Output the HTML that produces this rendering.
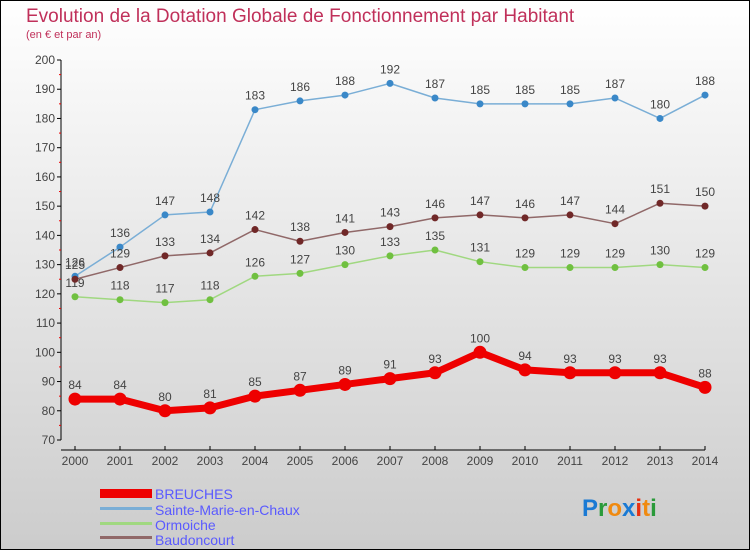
<!DOCTYPE html>
<html><head><meta charset="utf-8"><style>
body{margin:0}
#c{width:750px;height:550px;position:relative;overflow:hidden;background:linear-gradient(#ffffff,#cccccc);font-family:"Liberation Sans",sans-serif}
</style></head><body>
<div id="c">
<svg id="s" width="750" height="550" style="position:absolute;left:0;top:0">
<rect x="0.5" y="0.5" width="749" height="549" fill="none" stroke="#000"/>
<text x="26" y="22" font-size="19" fill="#c0305a">Evolution de la Dotation Globale de Fonctionnement par Habitant</text>
<text x="26" y="38" font-size="11" fill="#c0305a">(en € et par an)</text>
<g id="axes"></g><g id="series"></g>
<g>
<rect x="100" y="489" width="52" height="9" fill="#ee0000"/>
<text x="155" y="499" font-size="14" fill="#5a5aff">BREUCHES</text>
<rect x="100" y="507" width="52" height="3" fill="#7aaed6"/>
<text x="155" y="515" font-size="14" fill="#5a5aff">Sainte-Marie-en-Chaux</text>
<rect x="100" y="522" width="52" height="3" fill="#a0d880"/>
<text x="155" y="530" font-size="14" fill="#5a5aff">Ormoiche</text>
<rect x="100" y="536" width="52" height="3" fill="#906868"/>
<text x="155" y="545" font-size="14" fill="#5a5aff">Baudoncourt</text>
</g>
<text x="582" y="516" font-size="24" font-weight="bold"><tspan fill="#1a7ad4">P</tspan><tspan fill="#2a9a3a">r</tspan><tspan fill="#f08a10">o</tspan><tspan fill="#1a7ad4">x</tspan><tspan fill="#e83010">i</tspan><tspan fill="#f08a10">t</tspan><tspan fill="#2a9a3a">i</tspan></text>
</svg>
</div>
<script>
const years=[2000,2001,2002,2003,2004,2005,2006,2007,2008,2009,2010,2011,2012,2013,2014];
const breuches=[84,84,80,81,85,87,89,91,93,100,94,93,93,93,88];
const sainteMarie=[126,136,147,148,183,186,188,192,187,185,185,185,187,180,188];
const ormoiche=[119,118,117,118,126,127,130,133,135,131,129,129,129,130,129];
const baudoncourt=[125,129,133,134,142,138,141,143,146,147,146,147,144,151,150];
const yTicks=[70,80,90,100,110,120,130,140,150,160,170,180,190,200];
const NS="http://www.w3.org/2000/svg";
const X=i=>75+i*45;
const Y=v=>60+(200-v)*380/130;
function mk(tag,attrs,parent){const e=document.createElementNS(NS,tag);for(const k in attrs)e.setAttribute(k,attrs[k]);parent.appendChild(e);return e;}
const ax=document.getElementById('axes'),sg=document.getElementById('series');
let l=mk('line',{x1:61,y1:60,x2:61,y2:440,stroke:'#000'},ax);


yTicks.forEach(v=>{
 mk('line',{x1:57,x2:61,y1:Y(v),y2:Y(v),stroke:'#000'},ax);
 if(v<200)mk('line',{x1:59,x2:61,y1:Y(v+5),y2:Y(v+5),stroke:'#e00'},ax);
 const t=mk('text',{x:55,y:Y(v)+4,'font-size':12,'text-anchor':'end',fill:'#444'},ax);t.textContent=v;
 
 
});
l=mk('line',{x1:61,y1:450,x2:705,y2:450,stroke:'#000'},ax);


years.forEach((y,i)=>{
 mk('line',{x1:X(i),x2:X(i),y1:446,y2:450,stroke:'#000'},ax);
 const t=mk('text',{x:X(i),y:465,'font-size':12,'text-anchor':'middle',fill:'#444'},ax);t.textContent=y;
 
 
});
function series(vals,name,color,dot,lw,r){
 const g=mk('g',{},sg);
 
 
 mk('polyline',{points:vals.map((v,i)=>X(i)+','+Y(v)).join(' '),fill:'none',stroke:color,'stroke-width':lw,'stroke-linejoin':'round'},g);
 vals.forEach((v,i)=>{
  const c=mk('circle',{cx:X(i),cy:Y(v),r:r,fill:dot},g);
  
  
  const t=mk('text',{x:X(i),y:Y(v)-10,'font-size':12,'text-anchor':'middle',fill:'#444'},g);t.textContent=v;
  
  
 });
}
series(sainteMarie,'sainte-marie','#7aaed6','#3a88c8',1.5,3.5);
series(ormoiche,'ormoiche','#a0d880','#70c040',1.5,3.5);
series(baudoncourt,'baudoncourt','#906868','#702828',1.5,3.5);
series(breuches,'breuches','#ee0000','#ee0000',7,6.5);
</script>
</body></html>
